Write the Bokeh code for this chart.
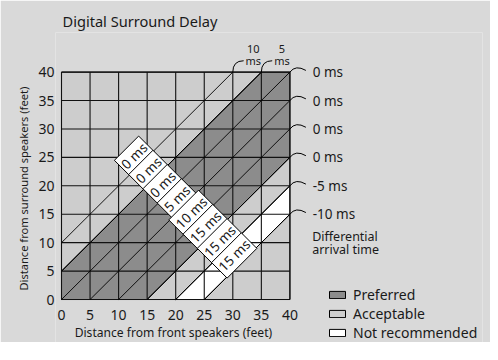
import math
from bokeh.plotting import figure
from bokeh.models import Range1d, FixedTicker, Title, Legend, LegendItem
from bokeh.core.properties import value
from bokeh.embed import file_html
from bokeh.resources import INLINE

# ---------------- data ----------------
feet_ticks = [0, 5, 10, 15, 20, 25, 30, 35, 40]
zone_lo = [-40, -25, -20, -15, 5]
zone_hi = [-25, -20, -15, 5, 40]
zone_names = ["Acceptable", "Not recommended", "Acceptable", "Preferred", "Acceptable"]
legend_order = ["Preferred", "Acceptable", "Not recommended"]
line_offsets = [10, 5, 0, -5, -10, -15, -20, -25]
line_arrival = ["10 ms", "5 ms", "0 ms", "0 ms", "0 ms", "0 ms", "-5 ms", "-10 ms"]
strip_centres = [12.5, 7.5, 2.5, -2.5, -7.5, -12.5, -17.5, -22.5]
strip_delays = ["0 ms", "0 ms", "0 ms", "5 ms", "10 ms", "15 ms", "15 ms", "15 ms"]
note_lines = ["Differential", "arrival time"]
x_title = "Distance from front speakers (feet)"
y_title = "Distance from surround speakers (feet)"

# ---------------- style ----------------
FONT = "Noto Sans"
TXT = "#1a1a1a"
BG = "#d9d9d9"
zone_colors = {"Preferred": "#8c8c8c", "Acceptable": "#cdcdcd", "Not recommended": "#ffffff"}
SIZE = max(feet_ticks)
PX = 5.71  # pixels per foot (layout)


def band_polygon(lo, hi, size):
    pts = []
    for (x, y) in [(0, 0), (size, 0), (size, size), (0, size)]:
        if lo <= y - x <= hi:
            pts.append((float(x), float(y)))
    for c in (lo, hi):
        for (x, y) in [(0, c), (size, size + c), (-c, 0), (size - c, size)]:
            if 0 <= x <= size and 0 <= y <= size:
                pts.append((float(x), float(y)))
    pts = list(dict.fromkeys(pts))
    cx = sum(q[0] for q in pts) / len(pts)
    cy = sum(q[1] for q in pts) / len(pts)
    pts.sort(key=lambda q: math.atan2(q[1] - cy, q[0] - cx))
    return [q[0] for q in pts], [q[1] for q in pts]


x0 = -6 / PX
x1 = x0 + (490 - 55 - 8) / PX
p = figure(width=490, height=342, output_backend="svg", toolbar_location=None,
           x_range=Range1d(x0, x1), y_range=Range1d(-7.56, 46.97),
           min_border_left=55, min_border_right=8, min_border_top=32, min_border_bottom=0,
           background_fill_color=BG, border_fill_color=BG, outline_line_color=None)

p.title.text = "Digital Surround Delay"
p.title.align = "left"
p.title.offset = 7
p.title.standoff = 4
p.title.text_font = FONT
p.title.text_font_size = "14.6px"
p.title.text_font_style = "normal"
p.title.text_color = TXT

p.xgrid.visible = False
p.ygrid.visible = False
for ax in (p.xaxis[0], p.yaxis[0]):
    ax.ticker = FixedTicker(ticks=feet_ticks)
    ax.axis_line_color = None
    ax.major_tick_line_color = None
    ax.minor_tick_line_color = None
    ax.major_tick_in = 0
    ax.major_tick_out = 0
    ax.minor_tick_in = 0
    ax.minor_tick_out = 0
    ax.major_label_text_font = FONT
    ax.major_label_text_font_size = "14px"
    ax.major_label_text_color = TXT
p.xaxis.fixed_location = 0
p.xaxis.major_label_standoff = 10
p.yaxis.major_label_standoff = 1

yt = Title(text=y_title, align="left", offset=52, standoff=10,
           text_font=FONT, text_font_size="11.1px", text_font_style="normal", text_color=TXT)
p.add_layout(yt, "left")

# zones
zone_renderers = {}
for name in legend_order:
    xs, ys = [], []
    for lo, hi, zn in zip(zone_lo, zone_hi, zone_names):
        if zn == name:
            px, py = band_polygon(lo, hi, SIZE)
            xs.append(px)
            ys.append(py)
    zone_renderers[name] = p.patches(xs, ys, fill_color=zone_colors[name],
                                     line_color="black", line_width=1)

# grid
p.segment(x0=feet_ticks, y0=[0] * len(feet_ticks), x1=feet_ticks, y1=[SIZE] * len(feet_ticks),
          line_color="#111111", line_width=1.1)
p.segment(x0=[0] * len(feet_ticks), y0=feet_ticks, x1=[SIZE] * len(feet_ticks), y1=feet_ticks,
          line_color="#111111", line_width=1.1)

# diagonals
dx0 = [max(0, -c) for c in line_offsets]
dy0 = [max(0, c) for c in line_offsets]
dx1 = [min(SIZE, SIZE - c) for c in line_offsets]
dy1 = [min(SIZE, SIZE + c) for c in line_offsets]
p.segment(x0=dx0, y0=dy0, x1=dx1, y1=dy1, line_color="black", line_width=0.9)

# strip labels
sx = [(38 - d) / 2 for d in strip_centres]
sy = [(38 + d) / 2 for d in strip_centres]
p.text(x=sx, y=sy, text=strip_delays, angle=math.pi / 4,
       text_align="center", text_baseline="middle",
       text_font=value(FONT), text_font_size="13.5px", text_color=TXT,
       background_fill_color="white", border_line_color="black", border_line_width=1,
       padding=2)

# end-of-line labels
top_i = [i for i, c in enumerate(line_offsets) if c > 0]
right_i = [i for i, c in enumerate(line_offsets) if c <= 0]

tx = [dx1[i] for i in top_i]
p.quadratic(x0=tx, y0=[SIZE] * len(tx), cx=tx, cy=[SIZE + 2.0] * len(tx),
            x1=[x + 1.9 for x in tx], y1=[SIZE + 2.0] * len(tx),
            line_color="black", line_width=1)
p.text(x=[x + 3.6 for x in tx], y=[SIZE + 4.0] * len(tx),
       text=[line_arrival[i].split()[0] for i in top_i],
       text_align="center", text_baseline="middle",
       text_font=value(FONT), text_font_size="11px", text_color=TXT)
p.text(x=[x + 3.6 for x in tx], y=[SIZE + 2.0] * len(tx),
       text=[line_arrival[i].split()[1] for i in top_i],
       text_align="center", text_baseline="middle",
       text_font=value(FONT), text_font_size="11px", text_color=TXT)

ry = [dy1[i] for i in right_i]
p.quadratic(x0=[SIZE] * len(ry), y0=ry, cx=[SIZE + 1.0] * len(ry), cy=[y + 1.35 for y in ry],
            x1=[SIZE + 2.8] * len(ry), y1=[y + 0.3 for y in ry],
            line_color="black", line_width=1)
p.text(x=[SIZE + 4.0] * len(ry), y=ry, text=[line_arrival[i] for i in right_i],
       text_align="left", text_baseline="middle",
       text_font=value(FONT), text_font_size="13.5px", text_color=TXT)

p.text(x=[SIZE + 3.9] * 2, y=[11.05, 8.8], text=note_lines,
       text_align="left", text_baseline="middle",
       text_font=value(FONT), text_font_size="12.5px", text_color=TXT)

# x-axis title (drawn under the axis, centred on the grid)
p.text(x=[SIZE / 2 - 0.4], y=[-5.85], text=[x_title],
       text_align="center", text_baseline="middle",
       text_font=value(FONT), text_font_size="12.1px", text_color=TXT)

# legend
legend = Legend(items=[LegendItem(label=n, renderers=[zone_renderers[n]]) for n in legend_order],
                location=(272, 0), orientation="vertical")
legend.glyph_width = 20
legend.glyph_height = 9
legend.label_standoff = 6
legend.label_height = 15
legend.spacing = -3
legend.padding = 0
legend.margin = 0
legend.border_line_color = None
legend.background_fill_alpha = 0
legend.label_text_font = FONT
legend.label_text_font_size = "14px"
legend.label_text_color = TXT
p.add_layout(legend, "center")

open("out.html", "w").write(file_html(p, INLINE))
